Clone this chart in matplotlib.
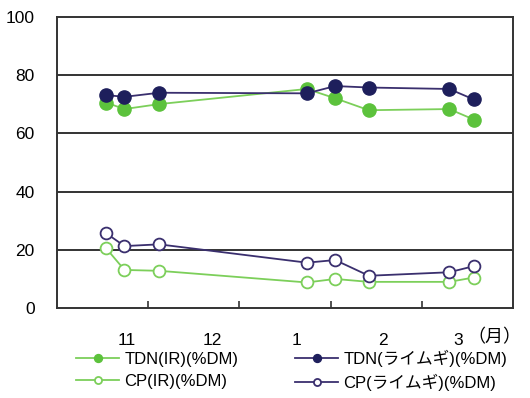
import matplotlib
matplotlib.use("Agg")
import matplotlib.pyplot as plt
from matplotlib.ticker import FixedLocator

plt.rcParams['font.family'] = ['Liberation Sans', 'Noto Sans CJK JP', 'DejaVu Sans']

# Sampling dates on a month-based axis (0 = start of Oct-Nov interval)
x_dates = [0.54, 0.74, 1.12, 2.74, 3.05, 3.42, 4.30, 4.57]

tdn_ir = [70.6, 68.4, 70.1, 75.3, 72.1, 68.0, 68.4, 64.8]
tdn_rye = [73.2, 72.6, 74.0, 73.8, 76.3, 75.8, 75.3, 71.7]
cp_ir = [20.5, 13.1, 12.8, 8.8, 10.0, 9.0, 9.0, 10.5]
cp_rye = [25.7, 21.3, 21.9, 15.6, 16.5, 11.1, 12.3, 14.4]

month_labels = ["11", "12", "1", "2", "3"]
month_label_pos = [0.77, 1.70, 2.63, 3.57, 4.40]
month_ticks = [1, 2, 3, 4]
y_ticks = [0, 20, 40, 60, 80, 100]

green = "#5cc23c"
green_line = "#7ccf5a"
navy = "#1e1f5c"
purple = "#3a2f6e"

fig = plt.figure(figsize=(5.30, 3.98), dpi=100)
ax = fig.add_axes([0.1075, 0.226, 0.8605, 0.731])

ms_big = 9.5
ms_open = 8.5
ax.plot(x_dates, tdn_ir, color=green_line, lw=1.3, marker="o", ms=ms_big,
        mfc=green, mec=green, label="TDN(IR)(%DM)", zorder=3)
ax.plot(x_dates, tdn_rye, color=purple, lw=1.3, marker="o", ms=ms_big,
        mfc=navy, mec=navy, label="TDN(ライムギ)(%DM)", zorder=4)
ax.plot(x_dates, cp_ir, color=green_line, lw=1.3, marker="o", ms=ms_open,
        mfc="white", mec=green_line, mew=1.3, label="CP(IR)(%DM)", zorder=3)
ax.plot(x_dates, cp_rye, color=purple, lw=1.3, marker="o", ms=ms_open,
        mfc="white", mec=purple, mew=1.3, label="CP(ライムギ)(%DM)", zorder=4)

ax.set_xlim(0, 5)
ax.set_ylim(0, 100)
ax.set_yticks(y_ticks)
ax.set_yticklabels([str(v) for v in y_ticks], fontsize=12.5)
ax.tick_params(axis="y", length=0, pad=16)
for v in y_ticks[1:-1]:
    ax.axhline(v, color="#333333", lw=1.4, zorder=1)

ax.xaxis.set_major_locator(FixedLocator(month_ticks))
ax.xaxis.set_minor_locator(FixedLocator(month_label_pos))
ax.set_xticklabels([""] * len(month_ticks))
ax.set_xticklabels(month_labels, minor=True, fontsize=12.5)
ax.tick_params(axis="x", which="major", direction="in", length=5,
               width=1.2, color="#333333")
ax.tick_params(axis="x", which="minor", length=0, pad=18)
ax.text(5.09, -0.068, "（月）", transform=ax.get_xaxis_transform(),
        ha="right", va="top", fontsize=13, family=['Noto Sans CJK JP'])

for s in ax.spines.values():
    s.set_color("#333333")
    s.set_linewidth(1.4)

handles, labels = ax.get_legend_handles_labels()
leg = fig.legend([handles[i] for i in [0, 2, 1, 3]],
                 [labels[i] for i in [0, 2, 1, 3]],
                 ncol=2, loc="lower left", bbox_to_anchor=(0.115, -0.02),
                 frameon=False, fontsize=12, handlelength=2.6,
                 markerscale=0.6, columnspacing=3.4, handletextpad=0.3,
                 labelspacing=0.4)

fig.savefig("out.png", dpi=100)
